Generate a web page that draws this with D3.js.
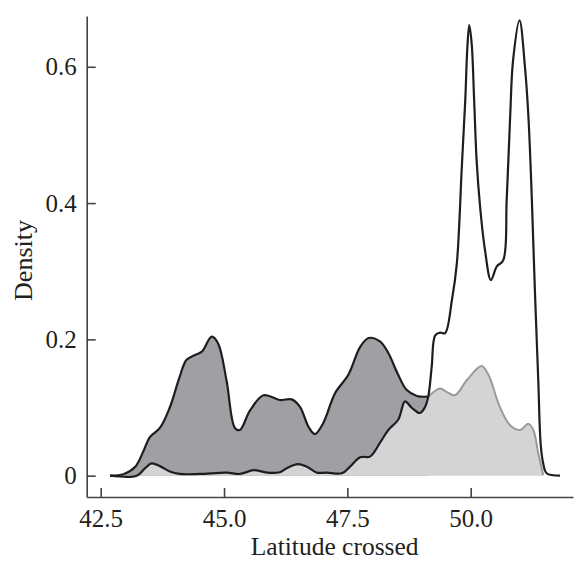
<!DOCTYPE html>
<html>
<head>
<meta charset="utf-8">
<script src="https://cdn.jsdelivr.net/npm/d3@7"></script>
<style>
  body { margin: 0; background: #fff; }
  text { font-family: "Liberation Serif", "DejaVu Serif", serif; fill: #231f20; }
</style>
</head>
<body>
<div id="chart"></div>
<script>
// Dark group: upper edge of the dark grey density
const darkLat = [42.69, 42.96, 43.2, 43.36, 43.5, 43.7, 43.9, 44.1, 44.24, 44.41, 44.55, 44.75, 44.88, 45.05, 45.22, 45.32,
  45.53, 45.8, 46.13, 46.37, 46.54, 46.71, 46.84, 47.01, 47.25, 47.52, 47.76, 47.93, 48.16, 48.33, 48.53, 48.7, 48.91, 49.14];
const darkDensity = [0, 0.002, 0.013, 0.035, 0.057, 0.07, 0.1, 0.145, 0.17, 0.177, 0.182, 0.204, 0.194, 0.14, 0.07, 0.067,
  0.096, 0.118, 0.111, 0.112, 0.101, 0.072, 0.061, 0.077, 0.121, 0.148, 0.189, 0.202, 0.197, 0.18, 0.148, 0.126, 0.117, 0.116];

// Black outline density (two tall peaks)
const tallLat = [42.69, 43.23, 43.4, 43.53, 43.7, 43.9, 44.1, 44.51, 45.05, 45.32, 45.6, 45.87, 46.13, 46.27, 46.5, 46.68,
  46.88, 47.08, 47.39, 47.55, 47.76, 47.96, 48.16, 48.33, 48.53, 48.67, 48.8, 48.97, 49.07, 49.14,
  49.21, 49.28, 49.38, 49.48, 49.62, 49.72, 49.82, 49.89, 49.93, 49.97, 50.02, 50.07, 50.12, 50.19, 50.29, 50.41,
  50.53, 50.66, 50.73, 50.8, 50.86, 50.99, 51.1, 51.17, 51.24, 51.3, 51.37, 51.42, 51.47, 51.54, 51.81];
const tallDensity = [0, 0, 0.011, 0.018, 0.014, 0.006, 0.0025, 0.0025, 0.0045, 0.0025, 0.008, 0.0045, 0.005, 0.011, 0.017, 0.013,
  0.0045, 0.0045, 0.0035, 0.013, 0.027, 0.028, 0.048, 0.067, 0.082, 0.109, 0.1, 0.092, 0.1, 0.116,
  0.16, 0.206, 0.21, 0.209, 0.258, 0.312, 0.453, 0.551, 0.625, 0.661, 0.634, 0.551, 0.463, 0.395, 0.331, 0.287,
  0.307, 0.316, 0.405, 0.527, 0.61, 0.668, 0.6, 0.527, 0.405, 0.275, 0.14, 0.045, 0.018, 0.0035, 0];

// Light grey density (visible from where it leaves the black line)
const greyLat = [49.14, 49.38, 49.51, 49.68, 49.92, 50.22, 50.36, 50.59, 50.8, 51.0, 51.17, 51.27, 51.37, 51.47];
const greyDensity = [0.116, 0.128, 0.123, 0.118, 0.14, 0.161, 0.148, 0.101, 0.074, 0.067, 0.076, 0.067, 0.033, 0.001];

const xTicks = [42.5, 45.0, 47.5, 50.0];
const yTicks = [0, 0.2, 0.4, 0.6];
const splitLat = 49.14;

const width = 574, height = 562;
const margin = { top: 16, left: 86.7, right: 1, bottom: 65 };

const svg = d3.select('#chart').append('svg')
  .attr('width', width)
  .attr('height', height);

const x = d3.scaleLinear().domain([42.216, 52.074]).range([margin.left, width - margin.right]);
const y = d3.scaleLinear().domain([-0.0313, 0.6745]).range([height - margin.bottom, margin.top]);

const pts = (lats, vals) => lats.map((d, i) => ({ lat: d, v: vals[i] }));
const dark = pts(darkLat, darkDensity);
const tall = pts(tallLat, tallDensity);
const grey = pts(greyLat, greyDensity);
const light = tall.filter(d => d.lat < splitLat).concat(grey);

const curve = d3.curveCatmullRom.alpha(0.5);
const area = d3.area().x(d => x(d.lat)).y0(y(0)).y1(d => y(d.v)).curve(curve);
const line = d3.line().x(d => x(d.lat)).y(d => y(d.v)).curve(curve);

// fills
svg.append('path').datum(dark).attr('d', area).attr('fill', '#9fa0a3');
svg.append('path').datum(light).attr('d', area).attr('fill', '#d3d4d6');

// outlines
svg.append('path').datum(grey).attr('d', line)
  .attr('fill', 'none').attr('stroke', '#9a9a9a').attr('stroke-width', 2);
svg.append('path').datum(dark).attr('d', line)
  .attr('fill', 'none').attr('stroke', '#1e1e1e').attr('stroke-width', 2.2)
  .attr('stroke-linejoin', 'round');
svg.append('path').datum(tall).attr('d', line)
  .attr('fill', 'none').attr('stroke', '#1e1e1e').attr('stroke-width', 2.2)
  .attr('stroke-linejoin', 'round');

// axes
const xAxis = svg.append('g')
  .attr('transform', `translate(0,${height - margin.bottom})`)
  .call(d3.axisBottom(x).tickValues(xTicks).tickFormat(d3.format('.1f'))
    .tickSizeInner(-9).tickSizeOuter(0).tickPadding(12));

const yAxis = svg.append('g')
  .attr('transform', `translate(${margin.left},0)`)
  .call(d3.axisLeft(y).tickValues(yTicks).tickFormat(d => d === 0 ? '0' : d3.format('.1f')(d))
    .tickSizeInner(-9).tickSizeOuter(0).tickPadding(10));

[xAxis, yAxis].forEach(g => {
  g.select('.domain').attr('stroke', '#444').attr('stroke-width', 1.6);
  g.selectAll('.tick line').attr('stroke', '#444').attr('stroke-width', 1.6);
  g.selectAll('.tick text').attr('font-size', 25).attr('fill', '#231f20')
    .style('font-family', '"Liberation Serif", serif');
});

svg.append('text')
  .attr('x', 334.7).attr('y', 555)
  .attr('text-anchor', 'middle')
  .attr('font-size', 25.5)
  .text('Latitude crossed');

svg.append('text')
  .attr('transform', 'translate(31.5,260.5) rotate(-90)')
  .attr('text-anchor', 'middle')
  .attr('font-size', 26)
  .text('Density');
</script>
</body>
</html>
